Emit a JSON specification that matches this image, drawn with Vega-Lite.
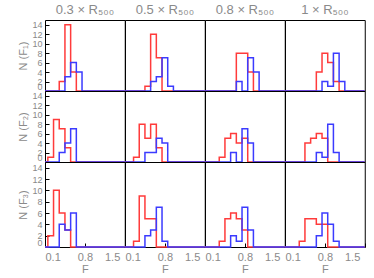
{
"$schema": "https://vega.github.io/schema/vega-lite/v6.json",
"padding": {"left": 17, "top": 3, "right": 5, "bottom": 0},
"background": "white",
"columns": 4,
"spacing": 0,
"bounds": "flush",
"config": {
 "view": {"stroke": "black", "strokeWidth": 1},
 "font": "Liberation Sans",
 "axis": {"labelColor": "#8a8a8a", "titleColor": "#8a8a8a", "labelFont": "Liberation Sans", "titleFont": "Liberation Sans", "labelFontSize": 9, "titleFontSize": 11, "titleFontWeight": "normal", "tickColor": "black", "domain": false, "grid": false, "labelOverlap": false, "minExtent": 0, "tickSize": -4},
 "title": {"font": "Liberation Sans", "color": "#8a8a8a", "fontSize": 13, "fontWeight": "normal", "offset": 3},
 "line": {"interpolate": "step-after", "strokeWidth": 1.5, "clip": true}
},
"datasets": {"h": [
{"r":1,"c":1,"s":"red","F":0.1,"N":0},{"r":1,"c":1,"s":"red","F":0.35,"N":2},{"r":1,"c":1,"s":"red","F":0.45,"N":14},{"r":1,"c":1,"s":"red","F":0.55,"N":4},{"r":1,"c":1,"s":"red","F":0.65,"N":0},{"r":1,"c":1,"s":"red","F":1.5,"N":0},
{"r":1,"c":2,"s":"red","F":0.1,"N":0},{"r":1,"c":2,"s":"red","F":0.45,"N":1},{"r":1,"c":2,"s":"red","F":0.55,"N":12},{"r":1,"c":2,"s":"red","F":0.65,"N":7},{"r":1,"c":2,"s":"red","F":0.75,"N":0},{"r":1,"c":2,"s":"red","F":1.5,"N":0},
{"r":1,"c":3,"s":"red","F":0.1,"N":0},{"r":1,"c":3,"s":"red","F":0.65,"N":8},{"r":1,"c":3,"s":"red","F":0.75,"N":8},{"r":1,"c":3,"s":"red","F":0.85,"N":4},{"r":1,"c":3,"s":"red","F":0.95,"N":0},{"r":1,"c":3,"s":"red","F":1.5,"N":0},
{"r":1,"c":4,"s":"red","F":0.1,"N":0},{"r":1,"c":4,"s":"red","F":0.65,"N":4},{"r":1,"c":4,"s":"red","F":0.75,"N":8},{"r":1,"c":4,"s":"red","F":0.85,"N":6},{"r":1,"c":4,"s":"red","F":0.95,"N":2},{"r":1,"c":4,"s":"red","F":1.05,"N":0},{"r":1,"c":4,"s":"red","F":1.5,"N":0},
{"r":1,"c":1,"s":"blue","F":0.1,"N":0},{"r":1,"c":1,"s":"blue","F":0.45,"N":3},{"r":1,"c":1,"s":"blue","F":0.55,"N":6},{"r":1,"c":1,"s":"blue","F":0.65,"N":4},{"r":1,"c":1,"s":"blue","F":0.75,"N":0},{"r":1,"c":1,"s":"blue","F":1.5,"N":0},
{"r":1,"c":2,"s":"blue","F":0.1,"N":0},{"r":1,"c":2,"s":"blue","F":0.55,"N":2},{"r":1,"c":2,"s":"blue","F":0.65,"N":3},{"r":1,"c":2,"s":"blue","F":0.75,"N":7},{"r":1,"c":2,"s":"blue","F":0.85,"N":1},{"r":1,"c":2,"s":"blue","F":0.95,"N":0},{"r":1,"c":2,"s":"blue","F":1.5,"N":0},
{"r":1,"c":3,"s":"blue","F":0.1,"N":0},{"r":1,"c":3,"s":"blue","F":0.65,"N":2},{"r":1,"c":3,"s":"blue","F":0.75,"N":0},{"r":1,"c":3,"s":"blue","F":0.85,"N":7},{"r":1,"c":3,"s":"blue","F":0.95,"N":4},{"r":1,"c":3,"s":"blue","F":1.05,"N":0},{"r":1,"c":3,"s":"blue","F":1.5,"N":0},
{"r":1,"c":4,"s":"blue","F":0.1,"N":0},{"r":1,"c":4,"s":"blue","F":0.75,"N":2},{"r":1,"c":4,"s":"blue","F":0.85,"N":1},{"r":1,"c":4,"s":"blue","F":0.95,"N":8},{"r":1,"c":4,"s":"blue","F":1.05,"N":2},{"r":1,"c":4,"s":"blue","F":1.15,"N":0},{"r":1,"c":4,"s":"blue","F":1.5,"N":0},
{"r":2,"c":1,"s":"red","F":0.1,"N":0},{"r":2,"c":1,"s":"red","F":0.15,"N":1},{"r":2,"c":1,"s":"red","F":0.25,"N":9},{"r":2,"c":1,"s":"red","F":0.35,"N":7},{"r":2,"c":1,"s":"red","F":0.45,"N":3},{"r":2,"c":1,"s":"red","F":0.55,"N":0},{"r":2,"c":1,"s":"red","F":1.5,"N":0},
{"r":2,"c":2,"s":"red","F":0.1,"N":0},{"r":2,"c":2,"s":"red","F":0.25,"N":1},{"r":2,"c":2,"s":"red","F":0.35,"N":8},{"r":2,"c":2,"s":"red","F":0.45,"N":5},{"r":2,"c":2,"s":"red","F":0.55,"N":8},{"r":2,"c":2,"s":"red","F":0.65,"N":3},{"r":2,"c":2,"s":"red","F":0.75,"N":0},{"r":2,"c":2,"s":"red","F":1.5,"N":0},
{"r":2,"c":3,"s":"red","F":0.1,"N":0},{"r":2,"c":3,"s":"red","F":0.35,"N":1},{"r":2,"c":3,"s":"red","F":0.45,"N":5},{"r":2,"c":3,"s":"red","F":0.55,"N":6},{"r":2,"c":3,"s":"red","F":0.65,"N":4},{"r":2,"c":3,"s":"red","F":0.75,"N":5},{"r":2,"c":3,"s":"red","F":0.85,"N":0},{"r":2,"c":3,"s":"red","F":1.5,"N":0},
{"r":2,"c":4,"s":"red","F":0.1,"N":0},{"r":2,"c":4,"s":"red","F":0.45,"N":4},{"r":2,"c":4,"s":"red","F":0.55,"N":5},{"r":2,"c":4,"s":"red","F":0.65,"N":6},{"r":2,"c":4,"s":"red","F":0.75,"N":5},{"r":2,"c":4,"s":"red","F":0.85,"N":0},{"r":2,"c":4,"s":"red","F":1.5,"N":0},
{"r":2,"c":1,"s":"blue","F":0.1,"N":0},{"r":2,"c":1,"s":"blue","F":0.35,"N":2},{"r":2,"c":1,"s":"blue","F":0.45,"N":4},{"r":2,"c":1,"s":"blue","F":0.55,"N":7},{"r":2,"c":1,"s":"blue","F":0.65,"N":0},{"r":2,"c":1,"s":"blue","F":1.5,"N":0},
{"r":2,"c":2,"s":"blue","F":0.1,"N":0},{"r":2,"c":2,"s":"blue","F":0.45,"N":2},{"r":2,"c":2,"s":"blue","F":0.55,"N":2},{"r":2,"c":2,"s":"blue","F":0.65,"N":5},{"r":2,"c":2,"s":"blue","F":0.75,"N":4},{"r":2,"c":2,"s":"blue","F":0.85,"N":0},{"r":2,"c":2,"s":"blue","F":1.5,"N":0},
{"r":2,"c":3,"s":"blue","F":0.1,"N":0},{"r":2,"c":3,"s":"blue","F":0.55,"N":2},{"r":2,"c":3,"s":"blue","F":0.65,"N":0},{"r":2,"c":3,"s":"blue","F":0.75,"N":7},{"r":2,"c":3,"s":"blue","F":0.85,"N":4},{"r":2,"c":3,"s":"blue","F":0.95,"N":0},{"r":2,"c":3,"s":"blue","F":1.5,"N":0},
{"r":2,"c":4,"s":"blue","F":0.1,"N":0},{"r":2,"c":4,"s":"blue","F":0.65,"N":2},{"r":2,"c":4,"s":"blue","F":0.75,"N":1},{"r":2,"c":4,"s":"blue","F":0.85,"N":8},{"r":2,"c":4,"s":"blue","F":0.95,"N":2},{"r":2,"c":4,"s":"blue","F":1.05,"N":0},{"r":2,"c":4,"s":"blue","F":1.5,"N":0},
{"r":3,"c":1,"s":"red","F":0.1,"N":0},{"r":3,"c":1,"s":"red","F":0.15,"N":2},{"r":3,"c":1,"s":"red","F":0.25,"N":10},{"r":3,"c":1,"s":"red","F":0.35,"N":6},{"r":3,"c":1,"s":"red","F":0.45,"N":3},{"r":3,"c":1,"s":"red","F":0.55,"N":0},{"r":3,"c":1,"s":"red","F":1.5,"N":0},
{"r":3,"c":2,"s":"red","F":0.1,"N":0},{"r":3,"c":2,"s":"red","F":0.25,"N":1},{"r":3,"c":2,"s":"red","F":0.35,"N":9},{"r":3,"c":2,"s":"red","F":0.45,"N":5},{"r":3,"c":2,"s":"red","F":0.55,"N":5},{"r":3,"c":2,"s":"red","F":0.65,"N":0},{"r":3,"c":2,"s":"red","F":1.5,"N":0},
{"r":3,"c":3,"s":"red","F":0.1,"N":0},{"r":3,"c":3,"s":"red","F":0.35,"N":1},{"r":3,"c":3,"s":"red","F":0.45,"N":5},{"r":3,"c":3,"s":"red","F":0.55,"N":6},{"r":3,"c":3,"s":"red","F":0.65,"N":5},{"r":3,"c":3,"s":"red","F":0.75,"N":3},{"r":3,"c":3,"s":"red","F":0.85,"N":0},{"r":3,"c":3,"s":"red","F":1.5,"N":0},
{"r":3,"c":4,"s":"red","F":0.1,"N":0},{"r":3,"c":4,"s":"red","F":0.35,"N":1},{"r":3,"c":4,"s":"red","F":0.45,"N":5},{"r":3,"c":4,"s":"red","F":0.55,"N":5},{"r":3,"c":4,"s":"red","F":0.65,"N":4},{"r":3,"c":4,"s":"red","F":0.75,"N":4},{"r":3,"c":4,"s":"red","F":0.85,"N":0},{"r":3,"c":4,"s":"red","F":1.5,"N":0},
{"r":3,"c":1,"s":"blue","F":0.1,"N":0},{"r":3,"c":1,"s":"blue","F":0.35,"N":4},{"r":3,"c":1,"s":"blue","F":0.45,"N":3},{"r":3,"c":1,"s":"blue","F":0.55,"N":6},{"r":3,"c":1,"s":"blue","F":0.65,"N":0},{"r":3,"c":1,"s":"blue","F":1.5,"N":0},
{"r":3,"c":2,"s":"blue","F":0.1,"N":0},{"r":3,"c":2,"s":"blue","F":0.45,"N":2},{"r":3,"c":2,"s":"blue","F":0.55,"N":3},{"r":3,"c":2,"s":"blue","F":0.65,"N":7},{"r":3,"c":2,"s":"blue","F":0.75,"N":1},{"r":3,"c":2,"s":"blue","F":0.85,"N":0},{"r":3,"c":2,"s":"blue","F":1.5,"N":0},
{"r":3,"c":3,"s":"blue","F":0.1,"N":0},{"r":3,"c":3,"s":"blue","F":0.55,"N":2},{"r":3,"c":3,"s":"blue","F":0.65,"N":1},{"r":3,"c":3,"s":"blue","F":0.75,"N":7},{"r":3,"c":3,"s":"blue","F":0.85,"N":3},{"r":3,"c":3,"s":"blue","F":0.95,"N":0},{"r":3,"c":3,"s":"blue","F":1.5,"N":0},
{"r":3,"c":4,"s":"blue","F":0.1,"N":0},{"r":3,"c":4,"s":"blue","F":0.65,"N":2},{"r":3,"c":4,"s":"blue","F":0.75,"N":6},{"r":3,"c":4,"s":"blue","F":0.85,"N":4},{"r":3,"c":4,"s":"blue","F":0.95,"N":1},{"r":3,"c":4,"s":"blue","F":1.05,"N":0},{"r":3,"c":4,"s":"blue","F":1.5,"N":0}
]},
"data": {"name": "h"},
"concat": [
  {"title": "0.3 × R₅₀₀", "width": 79.75, "height": 71, "transform": [{"filter": "datum.r == 1 && datum.c == 1"}], "mark": "line",
   "encoding": {
    "x": {"field": "F", "type": "quantitative", "scale": {"domain": [0.1, 1.5], "nice": false, "zero": false}, "axis": null},
    "y": {"field": "N", "type": "quantitative", "scale": {"domain": [0, 15], "nice": false}, "axis": {"title": "N (F₁)", "titlePadding": 3, "labelPadding": 7, "labelBaseline": {"condition": {"test": "datum.value == 0", "value": "bottom"}, "value": "middle"}, "values": [0,2,4,6,8,10,12,14]}},
    "color": {"field": "s", "type": "nominal", "scale": {"domain": ["red", "blue"], "range": ["#ff3b3b", "#3b3bff"]}, "legend": null}}},
  {"title": "0.5 × R₅₀₀", "width": 79.75, "height": 71, "transform": [{"filter": "datum.r == 1 && datum.c == 2"}], "mark": "line",
   "encoding": {
    "x": {"field": "F", "type": "quantitative", "scale": {"domain": [0.1, 1.5], "nice": false, "zero": false}, "axis": null},
    "y": {"field": "N", "type": "quantitative", "scale": {"domain": [0, 15], "nice": false}, "axis": null},
    "color": {"field": "s", "type": "nominal", "scale": {"domain": ["red", "blue"], "range": ["#ff3b3b", "#3b3bff"]}, "legend": null}}},
  {"title": "0.8 × R₅₀₀", "width": 79.75, "height": 71, "transform": [{"filter": "datum.r == 1 && datum.c == 3"}], "mark": "line",
   "encoding": {
    "x": {"field": "F", "type": "quantitative", "scale": {"domain": [0.1, 1.5], "nice": false, "zero": false}, "axis": null},
    "y": {"field": "N", "type": "quantitative", "scale": {"domain": [0, 15], "nice": false}, "axis": null},
    "color": {"field": "s", "type": "nominal", "scale": {"domain": ["red", "blue"], "range": ["#ff3b3b", "#3b3bff"]}, "legend": null}}},
  {"title": "1 × R₅₀₀", "width": 79.75, "height": 71, "transform": [{"filter": "datum.r == 1 && datum.c == 4"}], "mark": "line",
   "encoding": {
    "x": {"field": "F", "type": "quantitative", "scale": {"domain": [0.1, 1.5], "nice": false, "zero": false}, "axis": null},
    "y": {"field": "N", "type": "quantitative", "scale": {"domain": [0, 15], "nice": false}, "axis": null},
    "color": {"field": "s", "type": "nominal", "scale": {"domain": ["red", "blue"], "range": ["#ff3b3b", "#3b3bff"]}, "legend": null}}},
  {"width": 79.75, "height": 71, "transform": [{"filter": "datum.r == 2 && datum.c == 1"}], "mark": "line",
   "encoding": {
    "x": {"field": "F", "type": "quantitative", "scale": {"domain": [0.1, 1.5], "nice": false, "zero": false}, "axis": null},
    "y": {"field": "N", "type": "quantitative", "scale": {"domain": [0, 15], "nice": false}, "axis": {"title": "N (F₂)", "titlePadding": 3, "labelPadding": 7, "labelBaseline": {"condition": {"test": "datum.value == 0", "value": "bottom"}, "value": "middle"}, "values": [0,2,4,6,8,10,12,14]}},
    "color": {"field": "s", "type": "nominal", "scale": {"domain": ["red", "blue"], "range": ["#ff3b3b", "#3b3bff"]}, "legend": null}}},
  {"width": 79.75, "height": 71, "transform": [{"filter": "datum.r == 2 && datum.c == 2"}], "mark": "line",
   "encoding": {
    "x": {"field": "F", "type": "quantitative", "scale": {"domain": [0.1, 1.5], "nice": false, "zero": false}, "axis": null},
    "y": {"field": "N", "type": "quantitative", "scale": {"domain": [0, 15], "nice": false}, "axis": null},
    "color": {"field": "s", "type": "nominal", "scale": {"domain": ["red", "blue"], "range": ["#ff3b3b", "#3b3bff"]}, "legend": null}}},
  {"width": 79.75, "height": 71, "transform": [{"filter": "datum.r == 2 && datum.c == 3"}], "mark": "line",
   "encoding": {
    "x": {"field": "F", "type": "quantitative", "scale": {"domain": [0.1, 1.5], "nice": false, "zero": false}, "axis": null},
    "y": {"field": "N", "type": "quantitative", "scale": {"domain": [0, 15], "nice": false}, "axis": null},
    "color": {"field": "s", "type": "nominal", "scale": {"domain": ["red", "blue"], "range": ["#ff3b3b", "#3b3bff"]}, "legend": null}}},
  {"width": 79.75, "height": 71, "transform": [{"filter": "datum.r == 2 && datum.c == 4"}], "mark": "line",
   "encoding": {
    "x": {"field": "F", "type": "quantitative", "scale": {"domain": [0.1, 1.5], "nice": false, "zero": false}, "axis": null},
    "y": {"field": "N", "type": "quantitative", "scale": {"domain": [0, 15], "nice": false}, "axis": null},
    "color": {"field": "s", "type": "nominal", "scale": {"domain": ["red", "blue"], "range": ["#ff3b3b", "#3b3bff"]}, "legend": null}}},
  {"width": 79.75, "height": 85, "transform": [{"filter": "datum.r == 3 && datum.c == 1"}], "mark": "line",
   "encoding": {
    "x": {"field": "F", "type": "quantitative", "scale": {"domain": [0.1, 1.5], "nice": false, "zero": false}, "axis": {"values": [0.1, 0.8, 1.5], "format": ".1f", "labelFlush": true, "labelOffset": {"condition": {"test": "datum.value > 1.45", "value": -5}, "value": 0}, "labelFontSize": 11, "title": "F", "titlePadding": 1, "labelPadding": 8}},
    "y": {"field": "N", "type": "quantitative", "scale": {"domain": [0, 15], "nice": false}, "axis": {"title": "N (F₃)", "titlePadding": 3, "labelPadding": 7, "labelBaseline": {"condition": {"test": "datum.value == 0", "value": "bottom"}, "value": "middle"}, "values": [0,2,4,6,8,10,12,14]}},
    "color": {"field": "s", "type": "nominal", "scale": {"domain": ["red", "blue"], "range": ["#ff3b3b", "#3b3bff"]}, "legend": null}}},
  {"width": 79.75, "height": 85, "transform": [{"filter": "datum.r == 3 && datum.c == 2"}], "mark": "line",
   "encoding": {
    "x": {"field": "F", "type": "quantitative", "scale": {"domain": [0.1, 1.5], "nice": false, "zero": false}, "axis": {"values": [0.1, 0.8, 1.5], "format": ".1f", "labelFlush": true, "labelOffset": {"condition": {"test": "datum.value > 1.45", "value": -5}, "value": 0}, "labelFontSize": 11, "title": "F", "titlePadding": 1, "labelPadding": 8}},
    "y": {"field": "N", "type": "quantitative", "scale": {"domain": [0, 15], "nice": false}, "axis": null},
    "color": {"field": "s", "type": "nominal", "scale": {"domain": ["red", "blue"], "range": ["#ff3b3b", "#3b3bff"]}, "legend": null}}},
  {"width": 79.75, "height": 85, "transform": [{"filter": "datum.r == 3 && datum.c == 3"}], "mark": "line",
   "encoding": {
    "x": {"field": "F", "type": "quantitative", "scale": {"domain": [0.1, 1.5], "nice": false, "zero": false}, "axis": {"values": [0.1, 0.8, 1.5], "format": ".1f", "labelFlush": true, "labelOffset": {"condition": {"test": "datum.value > 1.45", "value": -5}, "value": 0}, "labelFontSize": 11, "title": "F", "titlePadding": 1, "labelPadding": 8}},
    "y": {"field": "N", "type": "quantitative", "scale": {"domain": [0, 15], "nice": false}, "axis": null},
    "color": {"field": "s", "type": "nominal", "scale": {"domain": ["red", "blue"], "range": ["#ff3b3b", "#3b3bff"]}, "legend": null}}},
  {"width": 79.75, "height": 85, "transform": [{"filter": "datum.r == 3 && datum.c == 4"}], "mark": "line",
   "encoding": {
    "x": {"field": "F", "type": "quantitative", "scale": {"domain": [0.1, 1.5], "nice": false, "zero": false}, "axis": {"values": [0.1, 0.8, 1.5], "format": ".1f", "labelFlush": true, "labelOffset": {"condition": {"test": "datum.value > 1.45", "value": -5}, "value": 0}, "labelFontSize": 11, "title": "F", "titlePadding": 1, "labelPadding": 8}},
    "y": {"field": "N", "type": "quantitative", "scale": {"domain": [0, 15], "nice": false}, "axis": null},
    "color": {"field": "s", "type": "nominal", "scale": {"domain": ["red", "blue"], "range": ["#ff3b3b", "#3b3bff"]}, "legend": null}}}
]
}
